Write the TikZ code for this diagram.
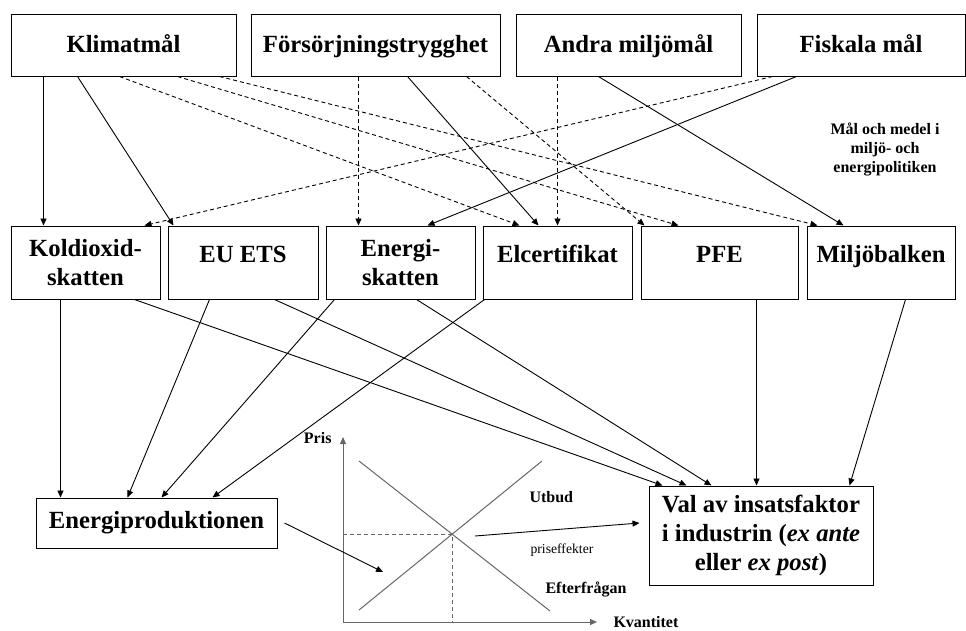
\documentclass[tikz,border=0pt]{standalone}
\usepackage{fontspec}
\setmainfont{Liberation Serif}
\usetikzlibrary{arrows.meta}

\tikzset{
  box/.style={draw, line width=1pt, inner sep=0pt, align=center,
    font=\fontsize{24.7}{29}\selectfont\bfseries},
  goal/.style={box, minimum height=62pt, text height=17pt, text depth=3pt},
  tool/.style={box, minimum height=73pt},
  oneline/.style={text height=17pt, text depth=17pt},
  twoline/.style={execute at begin node={\rule{0pt}{28pt}}},
  link/.style={->, line width=0.9pt},
  weak/.style={->, line width=0.9pt, dash pattern=on 4pt off 3pt},
  curve/.style={draw=black!60, line width=1pt},
  small/.style={font=\fontsize{16}{19}\selectfont\bfseries}
}

\begin{document}
\begin{tikzpicture}[x=1pt, y=-1pt, >={Triangle[length=7pt,width=6pt]}]
  \useasboundingbox (0,0) rectangle (966,630);

  % mål
  \node[goal, minimum width=225pt] (klimat) at (123.5,45) {Klimatmål};
  \node[goal, minimum width=249pt] (forsorj) at (375.5,45) {Försörjningstrygghet};
  \node[goal, minimum width=225pt] (andra) at (628.5,45) {Andra miljömål};
  \node[goal, minimum width=208pt] (fiskala) at (861,45) {Fiskala mål};

  \node[small, align=center] (rubrik) at (885,149) {Mål och medel i\\miljö- och\\energipolitiken};

  % medel
  \node[tool, twoline, minimum width=149pt] (kold) at (85.5,262.5) {Koldioxid-\\skatten};
  \node[tool, oneline, minimum width=150pt] (euets) at (243,262.5) {EU ETS};
  \node[tool, twoline, minimum width=149pt] (eskatt) at (400.5,262.5) {Energi-\\skatten};
  \node[tool, oneline, minimum width=149pt] (elcert) at (557.5,262.5) {Elcertifikat};
  \node[tool, oneline, minimum width=157pt] (pfe) at (719.5,262.5) {PFE};
  \node[tool, oneline, minimum width=148pt] (miljo) at (881,262.5) {Miljöbalken};

  % effekter
  \node[box, minimum width=241pt, minimum height=50pt] (eprod) at (156.5,523) {Energiproduktionen};
  \node[box, minimum width=224pt, minimum height=99pt] (val) at (761,535.5)
    {Val av insatsfaktor\\i industrin (\textit{ex ante}\\eller \textit{ex post})};

  \draw[link] ([xshift=33pt]klimat.south west) -- ([xshift=33pt]kold.north west);
  \draw[link] ([xshift=67pt]klimat.south west) -- ([xshift=6pt]euets.north west);
  \draw[weak] ([xshift=109pt]klimat.south west) -- ([xshift=37pt]elcert.north west);
  \draw[weak] ([xshift=167pt]klimat.south west) -- ([xshift=38pt]pfe.north west);
  \draw[weak] ([xshift=209pt]klimat.south west) -- ([xshift=11pt]miljo.north west);
  \draw[weak] ([xshift=108pt]forsorj.south west) -- ([xshift=33pt]eskatt.north west);
  \draw[link] ([xshift=157pt]forsorj.south west) -- ([xshift=56pt]elcert.north west);
  \draw[weak] ([xshift=216pt]forsorj.south west) -- ([xshift=4pt]pfe.north west);
  \draw[weak] ([xshift=42pt]andra.south west) -- ([xshift=75pt]elcert.north west);
  \draw[link] ([xshift=83pt]andra.south west) -- ([xshift=37pt]miljo.north west);
  \draw[weak] ([xshift=16pt]fiskala.south west) -- ([xshift=134pt]kold.north west);
  \draw[link] ([xshift=40pt]fiskala.south west) -- ([xshift=102pt]eskatt.north west);

  \draw[link] ([xshift=50pt]kold.south west) -- ([xshift=25pt]eprod.north west);
  \draw[link] ([xshift=42pt]euets.south west) -- ([xshift=92pt]eprod.north west);
  \draw[link] ([xshift=9pt]eskatt.south west) -- ([xshift=126pt]eprod.north west);
  \draw[link] ([xshift=2pt]elcert.south west) -- ([xshift=177pt]eprod.north west);
  \draw[link] ([xshift=124pt]kold.south west) -- ([xshift=14pt]val.north west);
  \draw[link] ([xshift=107pt]euets.south west) -- ([xshift=38pt]val.north west);
  \draw[link] ([xshift=91pt]eskatt.south west) -- ([xshift=63pt]val.north west);
  \draw[link] ([xshift=116pt]pfe.south west) -- ([xshift=108pt]val.north west);
  \draw[link] ([xshift=99pt]miljo.south west) -- ([xshift=201pt]val.north west);

  % utbud och efterfrågan
  \coordinate (origo) at (343,622);
  \coordinate (ytop) at (343,437);
  \coordinate (xend) at (597,622);
  \coordinate (jamvikt) at (452.2,534.2);
  \draw[curve, ->] (origo) -- (ytop);
  \draw[curve, ->] (origo) -- (xend);
  \draw[curve] (359,461) -- (550,611);
  \draw[curve] (359,610) -- (542,461);
  \draw[curve, dash pattern=on 4pt off 3pt] (origo |- jamvikt) -- (jamvikt) -- (jamvikt |- origo);

  \node[small, anchor=base east] (pris) at (335,443) {Pris};
  \node[small, anchor=base west] (kvant) at (610,627) {Kvantitet};
  \node[small, anchor=base west] (utbud) at (526,502) {Utbud};
  \node[small, anchor=base west] (efterfr) at (542,593) {Efterfrågan};
  \node[anchor=base west, font=\fontsize{13.7}{16}\selectfont] (prisef) at (527,553) {priseffekter};

  \coordinate (traff) at (383,572);
  \coordinate (prisut) at (475,536);
  \draw[link] ([xshift=7pt]eprod.east) -- (traff);
  \draw[link] (prisut) -- ([shift={(-9pt,12.5pt)}]val.west);
\end{tikzpicture}
\end{document}
